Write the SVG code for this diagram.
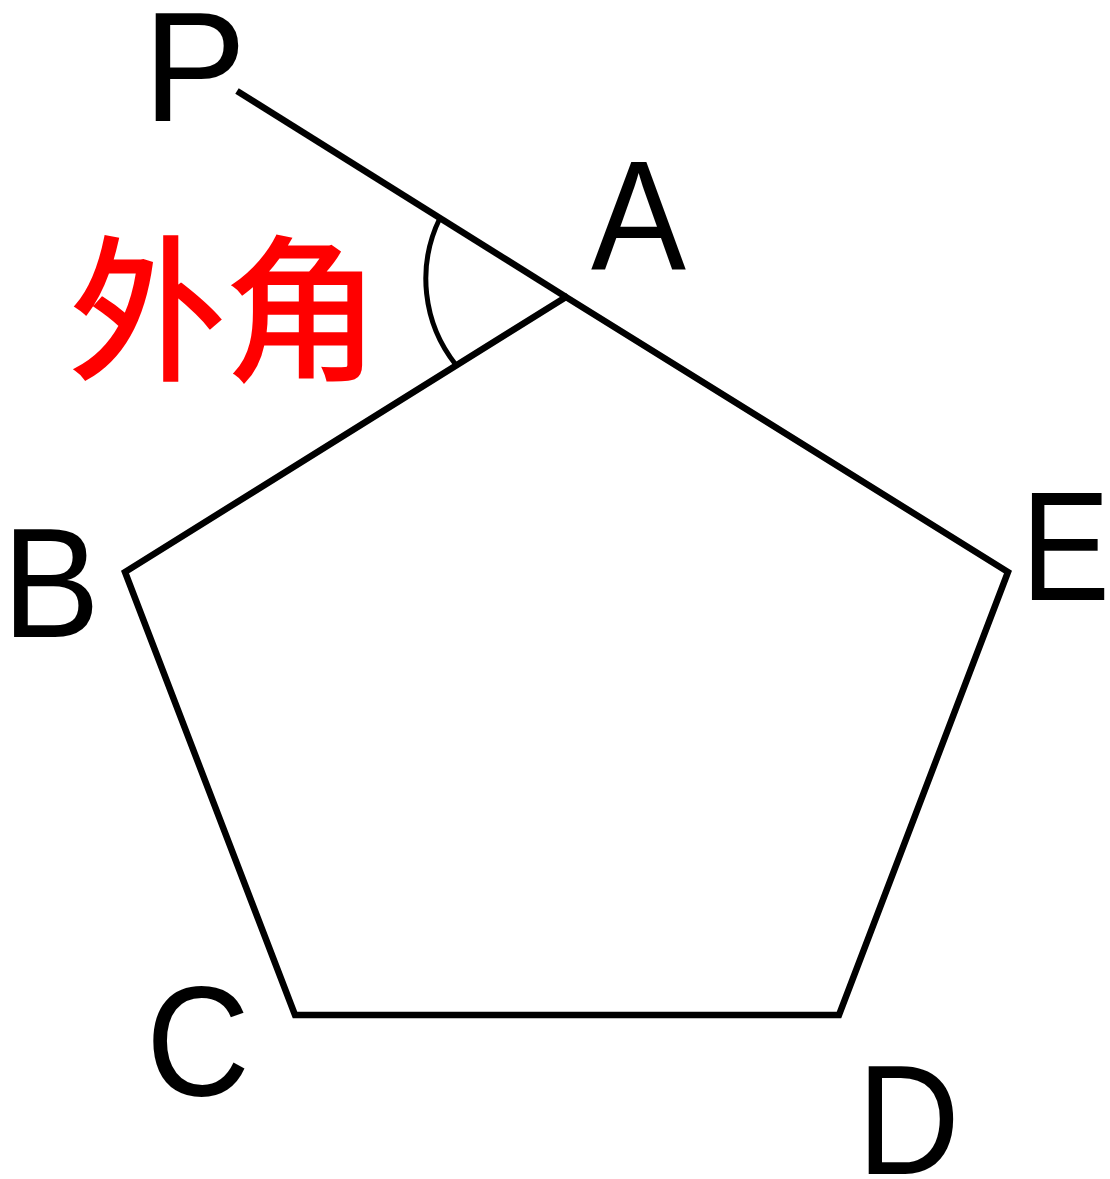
<svg xmlns="http://www.w3.org/2000/svg" width="1110" height="1179" viewBox="0 0 1110 1179">
<style>
.ln{fill:none;stroke:#000;stroke-width:6.5;stroke-linejoin:miter;stroke-miterlimit:10}
.arc{fill:none;stroke:#000;stroke-width:5}
.lbl{font-family:"Liberation Sans",Arial,sans-serif;font-size:155px;fill:#000}
.cjk{font-family:"Noto Sans CJK SC","Liberation Sans",sans-serif;font-size:155px;fill:#ff0000;stroke:#ff0000;stroke-width:3}
</style>
<rect width="1110" height="1179" fill="#fff"/>
<g id="connectors">
<path class="ln" d="M566,297 L125,572 L295,1015 L839,1015 L1008,572 Z"/>
<line class="ln" x1="237" y1="91" x2="566" y2="297"/>
<path class="arc" d="M440,218 A138,138 0 0 0 456,365"/>
</g>
<g id="P"><text class="lbl" x="143" y="121">P</text></g>
<g id="A"><text class="lbl" x="591" y="269" textLength="95" lengthAdjust="spacingAndGlyphs">A</text></g>
<g id="B"><text class="lbl" x="2" y="637" textLength="98" lengthAdjust="spacingAndGlyphs">B</text></g>
<g id="C"><text class="lbl" x="146" y="1095" textLength="104" lengthAdjust="spacingAndGlyphs">C</text></g>
<g id="D"><text class="lbl" x="857" y="1174" textLength="103" lengthAdjust="spacingAndGlyphs">D</text></g>
<g id="E"><text class="lbl" x="1021" y="600" textLength="89" lengthAdjust="spacingAndGlyphs">E</text></g>
<g id="exterior-angle"><text class="cjk" x="70" y="367">外角</text></g>
</svg>
